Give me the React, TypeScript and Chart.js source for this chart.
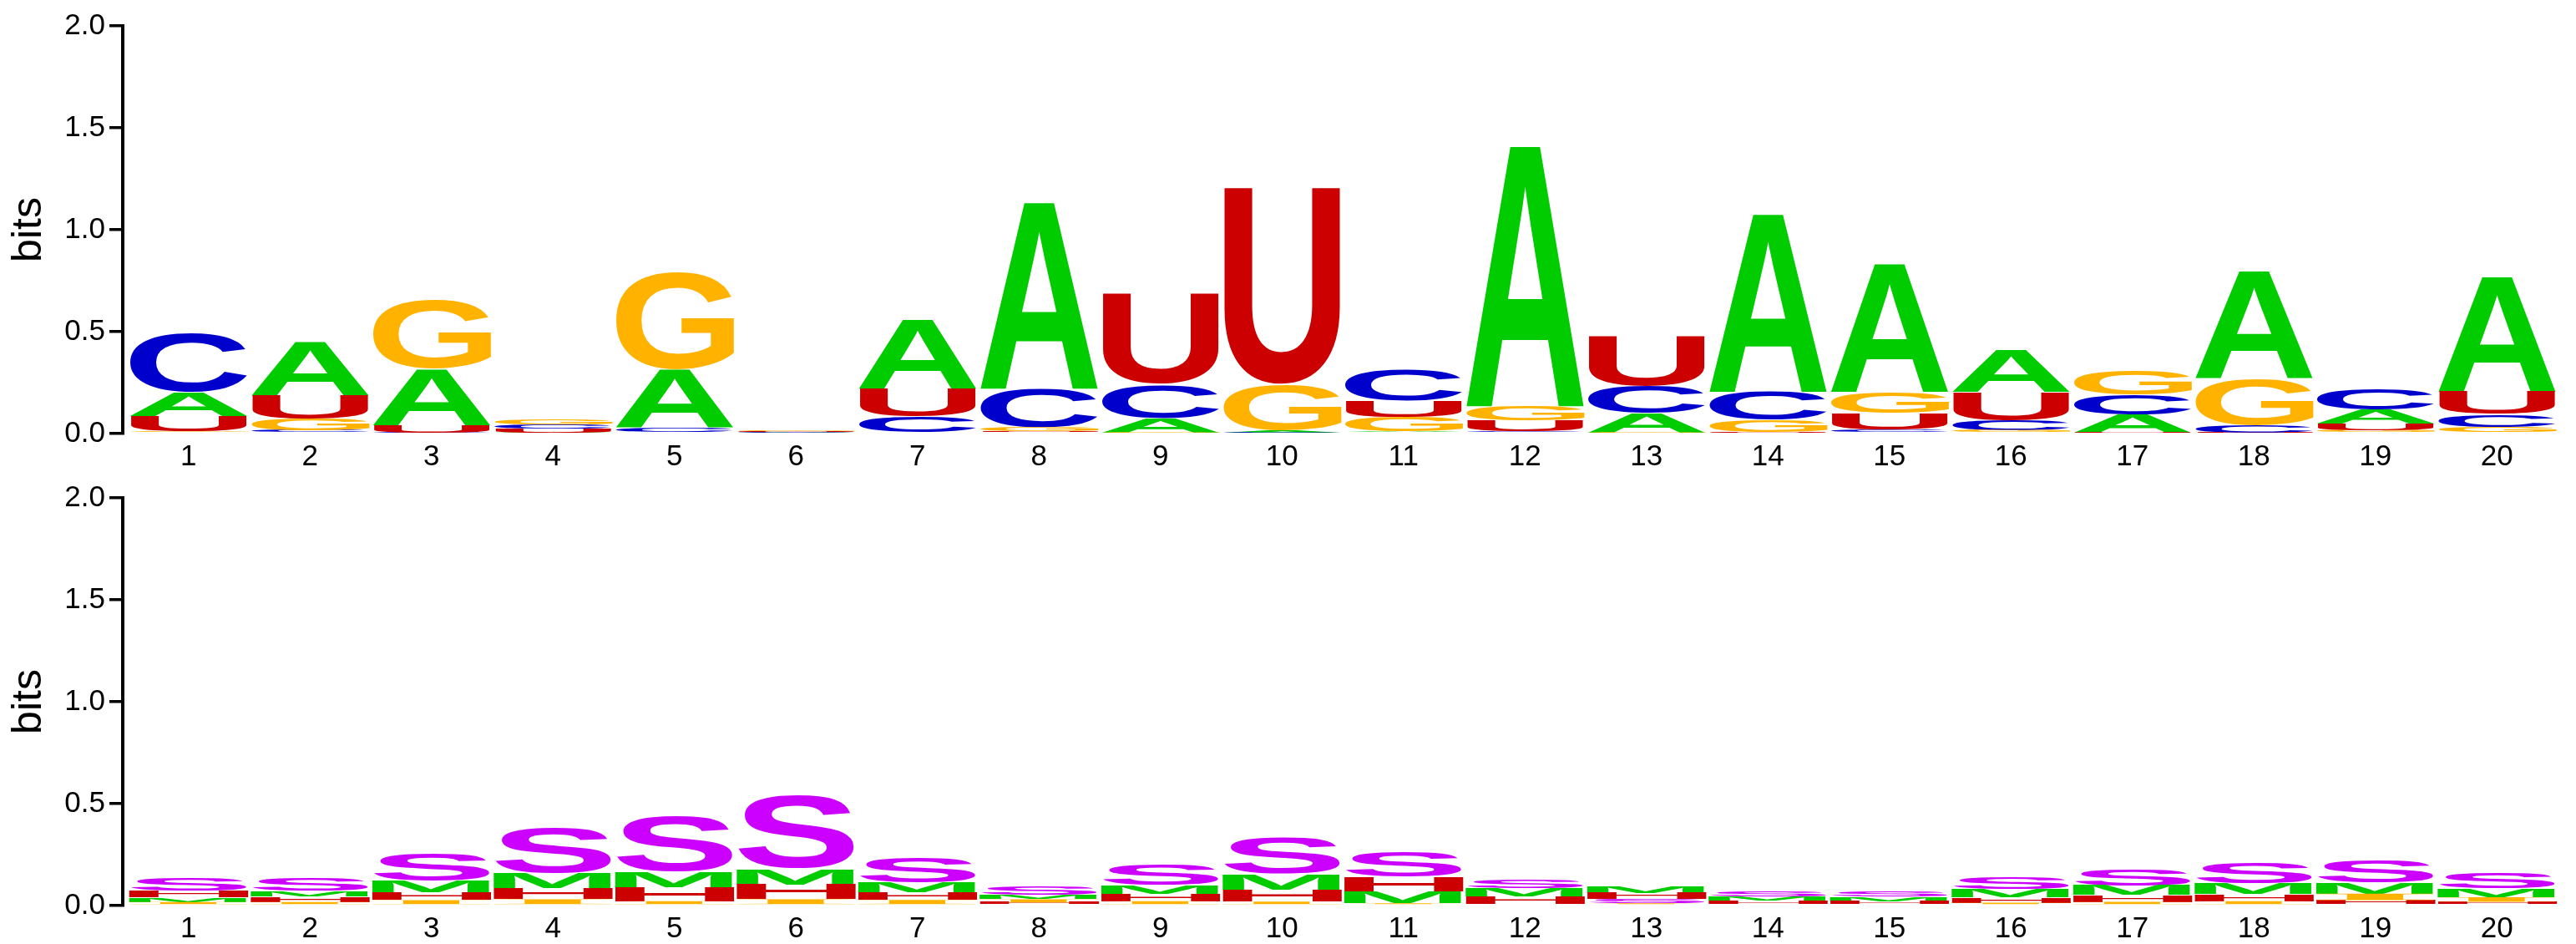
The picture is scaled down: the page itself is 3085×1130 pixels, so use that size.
import React, { useEffect, useRef } from "react";
import { Chart, registerables } from "chart.js";

Chart.register(...registerables);

// ---------- data ----------
const positions = ["1","2","3","4","5","6","7","8","9","10","11","12","13","14","15","16","17","18","19","20"];
const yTicks = [0, 0.5, 1.0, 1.5, 2.0];

// top panel: nucleotide information (bits)
const bitsA = [0.117, 0.267, 0.277, 0.005, 0.286, 0.003, 0.342, 0.93, 0.071, 0.011, 0.011, 1.30, 0.093, 0.887, 0.638, 0.211, 0.088, 0.532, 0.068, 0.571];
const bitsC = [0.29, 0.015, 0.005, 0.021, 0.022, 0.005, 0.075, 0.19, 0.163, 0.004, 0.151, 0.011, 0.134, 0.14, 0.018, 0.048, 0.099, 0.037, 0.101, 0.062];
const bitsG = [0.01, 0.058, 0.336, 0.025, 0.48, 0.007, 0.007, 0.019, 0.005, 0.222, 0.068, 0.068, 0.005, 0.06, 0.103, 0.015, 0.118, 0.229, 0.015, 0.032];
const bitsU = [0.077, 0.117, 0.036, 0.02, 0.007, 0.005, 0.141, 0.011, 0.456, 0.988, 0.082, 0.055, 0.249, 0.005, 0.082, 0.14, 0.005, 0.004, 0.034, 0.112];

// bottom panel: structural context information (bits)
const bitsS = [0.065, 0.065, 0.134, 0.226, 0.273, 0.358, 0.128, 0.042, 0.103, 0.18, 0.126, 0.041, 0.021, 0.024, 0.027, 0.057, 0.081, 0.105, 0.109, 0.074];
const bitsM = [0.023, 0.028, 0.056, 0.074, 0.074, 0.077, 0.045, 0.023, 0.043, 0.075, 0.059, 0.040, 0.031, 0.022, 0.023, 0.041, 0.045, 0.051, 0.055, 0.042];
const bitsH = [0.033, 0.027, 0.037, 0.055, 0.07, 0.072, 0.039, 0.015, 0.036, 0.059, 0.071, 0.039, 0.03, 0.016, 0.014, 0.025, 0.034, 0.034, 0.027, 0.018];
const bitsI = [0.017, 0.017, 0.027, 0.031, 0.022, 0.031, 0.028, 0.016, 0.022, 0.02, 0.011, 0.008, 0.011, 0.008, 0.008, 0.014, 0.018, 0.022, 0.031, 0.023];

type LetterSeries = { letter: string; color: string; font: string; values: number[] };

const topSeries: LetterSeries[] = [
  { letter: "A", color: "#00CC00", font: '"Liberation Sans"', values: bitsA },
  { letter: "C", color: "#0000CC", font: '"Liberation Sans"', values: bitsC },
  { letter: "G", color: "#FFB300", font: '"Liberation Sans"', values: bitsG },
  { letter: "U", color: "#CC0000", font: '"Liberation Sans"', values: bitsU },
];
const bottomSeries: LetterSeries[] = [
  { letter: "S", color: "#CC00FF", font: '"Liberation Sans"', values: bitsS },
  { letter: "M", color: "#00CC00", font: '"Liberation Sans"', values: bitsM },
  { letter: "H", color: "#CC0000", font: '"Liberation Sans"', values: bitsH },
  { letter: "I", color: "#FFB300", font: '"Liberation Serif"', values: bitsI },
];

// ---------- drawing helpers ----------
function drawGlyph(ctx: CanvasRenderingContext2D, ch: string, font: string, color: string, L: number, T: number, W: number, H: number) {
  ctx.save();
  ctx.font = `bold 400px ${font}`;
  ctx.textAlign = "left";
  ctx.textBaseline = "alphabetic";
  const m = ctx.measureText(ch);
  const gx0 = -m.actualBoundingBoxLeft;
  const gx1 = m.actualBoundingBoxRight;
  const gy0 = -m.actualBoundingBoxAscent;
  const gy1 = m.actualBoundingBoxDescent;
  const gw = gx1 - gx0;
  const gh = gy1 - gy0;
  if (gw <= 0 || gh <= 0) { ctx.restore(); return; }
  ctx.translate(L, T);
  ctx.scale(W / gw, H / gh);
  ctx.fillStyle = color;
  ctx.fillText(ch, -gx0, -gy0);
  ctx.restore();
}

const letterPlugin = {
  id: "logoLetters",
  afterDatasetsDraw(chart: any) {
    const ctx = chart.ctx as CanvasRenderingContext2D;
    chart.data.datasets.forEach((ds: any, di: number) => {
      const meta = chart.getDatasetMeta(di);
      meta.data.forEach((el: any) => {
        const p = el.getProps(["x", "y", "base", "width"], true);
        const top = Math.min(p.y, p.base);
        const h = Math.abs(p.base - p.y);
        if (h < 0.4) return;
        const inset = 1;
        drawGlyph(ctx, ds.letter, ds.letterFont, ds.letterColor, p.x - p.width / 2 + inset, top, p.width - 2 * inset, h);
      });
    });
  },
};

function buildDatasets(series: LetterSeries[]) {
  const ranges: Record<string, [number, number][]> = {};
  series.forEach((s) => (ranges[s.letter] = []));
  positions.forEach((_, i) => {
    const order = series
      .map((s) => ({ letter: s.letter, v: s.values[i] }))
      .sort((a, b) => a.v - b.v);
    let acc = 0;
    order.forEach((o) => {
      ranges[o.letter][i] = [acc, acc + o.v];
      acc += o.v;
    });
  });
  return series.map((s) => ({
    label: s.letter,
    letter: s.letter,
    letterColor: s.color,
    letterFont: s.font,
    data: positions.map((_, i) => ({ x: i + 1, y: ranges[s.letter][i] })),
    backgroundColor: "rgba(0,0,0,0)",
    borderWidth: 0,
    grouped: false,
    barPercentage: 1,
    categoryPercentage: 1,
  }));
}

const TICK_FONT = { family: '"Liberation Sans", Arial, sans-serif', size: 35 };

function makeConfig(series: LetterSeries[]): any {
  return {
    type: "bar",
    data: { datasets: buildDatasets(series) },
    plugins: [letterPlugin],
    options: {
      responsive: false,
      animation: false,
      events: [],
      layout: { padding: { left: 0, right: 22, top: 31, bottom: 0 } },
      plugins: { legend: { display: false }, tooltip: { enabled: false }, title: { display: false } },
      scales: {
        x: {
          type: "linear",
          min: 0.459,
          max: 20.5,
          offset: false,
          grid: { display: false, drawTicks: false },
          border: { display: false },
          afterBuildTicks: (scale: any) => {
            scale.ticks = positions.map((_, i) => ({ value: i + 1 }));
          },
          afterFit: (scale: any) => {
            scale.height = 46;
          },
          ticks: {
            autoSkip: false,
            maxRotation: 0,
            padding: 7,
            color: "#000",
            font: TICK_FONT,
            callback: (v: number) => positions[Math.round(v) - 1] ?? "",
          },
        },
        y: {
          min: 0,
          max: 2,
          afterBuildTicks: (scale: any) => {
            scale.ticks = yTicks.map((v) => ({ value: v }));
          },
          afterFit: (scale: any) => {
            scale.width = 147;
          },
          grid: {
            display: true,
            drawOnChartArea: false,
            drawTicks: true,
            tickLength: 16,
            tickColor: "#000",
            lineWidth: 3.5,
            color: "#000",
          },
          border: { display: true, color: "#000", width: 4 },
          ticks: {
            padding: 5,
            color: "#000",
            font: TICK_FONT,
            callback: (v: number) => Number(v).toFixed(1),
          },
          title: {
            display: true,
            text: "bits",
            color: "#000",
            font: { family: '"Liberation Sans", Arial, sans-serif', size: 50 },
            padding: { top: 5, bottom: 0 },
          },
        },
      },
    },
  };
}

function LogoPanel({ series }: { series: LetterSeries[] }) {
  const ref = useRef<HTMLCanvasElement | null>(null);
  useEffect(() => {
    let chart: Chart | null = null;
    let cancelled = false;
    const make = () => {
      if (cancelled || !ref.current) return;
      chart = new Chart(ref.current, makeConfig(series));
    };
    const fs: any = (document as any).fonts;
    if (fs && fs.load) {
      Promise.all([
        fs.load('bold 100px "Liberation Sans"'),
        fs.load('bold 100px "Liberation Serif"'),
        fs.load('35px "Liberation Sans"'),
      ]).then(make, make);
    } else {
      make();
    }
    return () => {
      cancelled = true;
      if (chart) chart.destroy();
    };
  }, [series]);
  return <canvas ref={ref} width={3085} height={565} style={{ display: "block", width: 3085, height: 565 }} />;
}

export default function App() {
  useEffect(() => {
    document.body.style.margin = "0";
    document.body.style.overflow = "hidden";
  }, []);
  return (
    <div style={{ position: "absolute", left: 0, top: 0, width: 3085, height: 1130, background: "#fff" }}>
      <LogoPanel series={topSeries} />
      <LogoPanel series={bottomSeries} />
    </div>
  );
}
